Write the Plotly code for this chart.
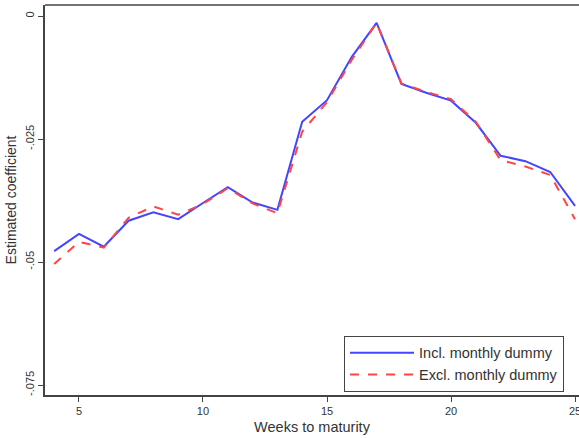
import plotly.graph_objects as go

weeks = list(range(4, 26))
incl_monthly = [-0.0478, -0.0443, -0.0469, -0.0416, -0.0399, -0.0413, -0.0380, -0.0348,
                -0.0379, -0.0394, -0.0215, -0.0171, -0.0083, -0.0014, -0.0138, -0.0156,
                -0.0172, -0.0217, -0.0284, -0.0295, -0.0317, -0.0386]
excl_monthly = [-0.0504, -0.0459, -0.0471, -0.0410, -0.0387, -0.0404, -0.0382, -0.0350,
                -0.0381, -0.0401, -0.0235, -0.0175, -0.0089, -0.0014, -0.0137, -0.0154,
                -0.0169, -0.0215, -0.0293, -0.0306, -0.0323, -0.0413]
x_ticks = [5, 10, 15, 20, 25]
y_ticks = [0, -0.025, -0.05, -0.075]
y_tick_labels = ["0", "-.025", "-.05", "-.075"]

font_family = "Liberation Sans, Arial, sans-serif"
axis_color = "#444444"

fig = go.Figure()
fig.add_trace(go.Scatter(x=weeks, y=incl_monthly, mode="lines", name="Incl. monthly dummy",
                         line=dict(color="#4545ff", width=2)))
fig.add_trace(go.Scatter(x=weeks, y=excl_monthly, mode="lines", name="Excl. monthly dummy",
                         line=dict(color="#ff4545", width=2, dash="dash")))

fig.update_layout(
    width=579, height=438,
    margin=dict(l=45, r=0, t=5, b=43),
    paper_bgcolor="white", plot_bgcolor="white",
    font=dict(family=font_family, color="#333333"),
    showlegend=True,
    legend=dict(x=0.56, y=0.152, xanchor="left", yanchor="top",
                bordercolor=axis_color, borderwidth=1, bgcolor="white",
                font=dict(size=14.5, color="#333333"), itemwidth=64,
                tracegroupgap=0),
    xaxis=dict(range=[3.63, 25.16], tickvals=x_ticks, ticks="outside", ticklen=5,
               tickcolor=axis_color, showline=True, linecolor=axis_color, linewidth=1.5,
               showgrid=False, zeroline=False, automargin=False, ticklabeloverflow="allow",
               tickfont=dict(size=11, color="#333333"),
               title=dict(text="Weeks to maturity", font=dict(size=14.5, color="#333333"), standoff=6)),
    yaxis=dict(range=[-0.07703, 0.00224], tickvals=y_ticks, ticktext=y_tick_labels,
               ticks="outside", ticklen=5, tickcolor=axis_color, tickangle=-90,
               showline=True, linecolor=axis_color, linewidth=1.5,
               showgrid=False, zeroline=False, automargin=False, ticklabeloverflow="allow",
               tickfont=dict(size=11, color="#333333"),
               title=dict(text="Estimated coefficient", font=dict(size=14, color="#333333"), standoff=4)),
)
fig.add_shape(type="line", xref="paper", yref="paper", x0=0, x1=1.02, y0=1, y1=1,
              line=dict(color=axis_color, width=1.5))

fig.write_html("out.html", config={"displayModeBar": False},
               post_script="document.body.style.margin='0';document.body.style.overflow='hidden';")
